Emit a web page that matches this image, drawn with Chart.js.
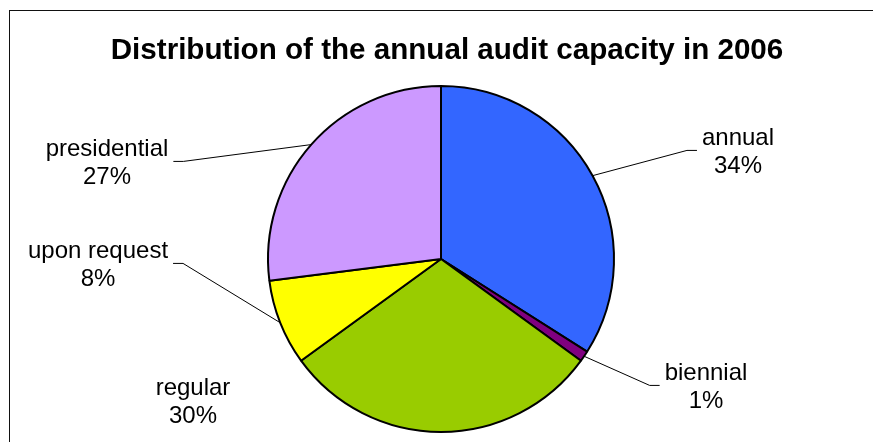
<!DOCTYPE html>
<html>
<head>
<meta charset="utf-8">
<title>Audit capacity 2006</title>
<style>
  html, body { margin: 0; padding: 0; background: #fff; }
  #wrap { position: relative; width: 873px; height: 442px; }
</style>
</head>
<body>
<div id="wrap">
  <canvas id="auditChart" width="873" height="442"></canvas>
</div>
<script src="https://cdn.jsdelivr.net/npm/chart.js"></script>
<script>
// audit categories and their share of the annual capacity (%)
const categories = ['annual', 'biennial', 'regular', 'upon request', 'presidential'];
const shares = [34, 1, 30, 8, 27];
const sliceColors = ['#3366FF', '#800080', '#99CC00', '#FFFF00', '#CC99FF'];
const chartTitle = 'Distribution of the annual audit capacity in 2006';

// where each label sits (centre x, first baseline) and whether it gets a leader line
const labelLayout = [
  { x: 738, y: 145, leader: true },
  { x: 706, y: 380, leader: true },
  { x: 193, y: 395, leader: false },
  { x: 98,  y: 258, leader: true },
  { x: 107, y: 156, leader: true }
];

const fontFamily = '"Liberation Sans", Arial, sans-serif';
const labelSize = 24;
const lineGap = 28;

const decorations = {
  id: 'decorations',
  beforeDraw(chart) {
    const ctx = chart.ctx;
    ctx.save();
    ctx.fillStyle = '#fff';
    ctx.fillRect(0, 0, chart.width, chart.height);
    // outer frame
    ctx.strokeStyle = '#111';
    ctx.lineWidth = 1;
    ctx.strokeRect(9.5, 10.5, chart.width + 20, chart.height + 20);
    ctx.restore();
  },
  afterDraw(chart) {
    const ctx = chart.ctx;
    ctx.save();
    ctx.fillStyle = '#000';
    ctx.textAlign = 'center';
    ctx.textBaseline = 'alphabetic';
    ctx.font = 'bold 29.6px ' + fontFamily;
    ctx.fillText(chartTitle, 447, 59);

    ctx.font = labelSize + 'px ' + fontFamily;
    const arcs = chart.getDatasetMeta(0).data;
    arcs.forEach((arc, i) => {
      const lay = labelLayout[i];
      const line1 = categories[i];
      const line2 = shares[i] + '%';
      ctx.fillStyle = '#000';
      ctx.fillText(line1, lay.x, lay.y);
      ctx.fillText(line2, lay.x, lay.y + lineGap);
      if (!lay.leader) return;

      const w = Math.max(ctx.measureText(line1).width, ctx.measureText(line2).width);
      const midY = (lay.y - labelSize * 0.716 + lay.y + lineGap) / 2;
      const mid = (arc.startAngle + arc.endAngle) / 2;
      const ex = arc.x + Math.cos(mid) * arc.outerRadius;
      const ey = arc.y + Math.sin(mid) * arc.outerRadius;
      const right = lay.x > arc.x;
      const endX = right ? lay.x - w / 2 - 5 : lay.x + w / 2 + 5;
      const elbowX = right ? endX - 10 : endX + 10;

      ctx.strokeStyle = '#000';
      ctx.lineWidth = 1;
      ctx.beginPath();
      ctx.moveTo(ex, ey);
      ctx.lineTo(elbowX, midY);
      ctx.lineTo(endX, midY);
      ctx.stroke();
    });
    ctx.restore();
  }
};

new Chart(document.getElementById('auditChart'), {
  type: 'pie',
  data: {
    labels: categories,
    datasets: [{
      data: shares,
      backgroundColor: sliceColors,
      borderColor: '#000',
      borderWidth: 2
    }]
  },
  options: {
    responsive: false,
    animation: false,
    layout: { padding: { left: 267, right: 258, top: 85, bottom: 9 } },
    plugins: {
      legend: { display: false },
      tooltip: { enabled: false },
      title: { display: false }
    }
  },
  plugins: [decorations]
});
</script>
</body>
</html>
